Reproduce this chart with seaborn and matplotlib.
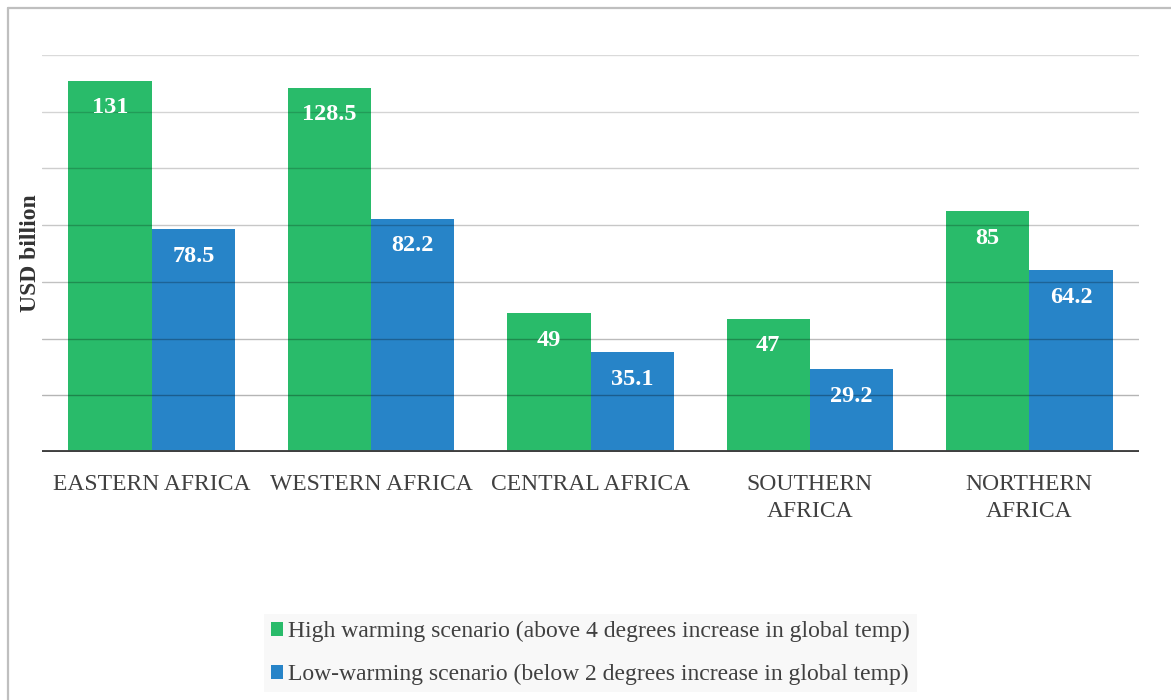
import matplotlib
matplotlib.use("Agg")
import matplotlib.pyplot as plt
from matplotlib.lines import Line2D
from matplotlib.patches import Patch
from matplotlib.ticker import MultipleLocator
import seaborn as sns
import pandas as pd

# Estimated adaptation cost by African region (USD billion)
regions = ["EASTERN AFRICA", "WESTERN AFRICA", "CENTRAL AFRICA",
           "SOUTHERN\nAFRICA", "NORTHERN\nAFRICA"]
high_warming = [131, 128.5, 49, 47, 85]
low_warming = [78.5, 82.2, 35.1, 29.2, 64.2]
scenarios = ["High warming scenario (above 4 degrees increase in global temp)",
             "Low-warming scenario (below 2 degrees increase in global temp)"]
colors = ["#29bb6a", "#2784c8"]

df = pd.DataFrame({
    "region": regions * 2,
    "value": high_warming + low_warming,
    "scenario": [scenarios[0]] * len(regions) + [scenarios[1]] * len(regions),
})

sns.set_theme(style="white")
plt.rcParams["font.family"] = ["Liberation Serif", "DejaVu Serif"]

W, H = 1171, 700
fig = plt.figure(figsize=(W / 100, H / 100), dpi=100)
ax = fig.add_axes([42 / W, (H - 452) / H, (1139 - 42) / W, (452 - 55) / H])

sns.barplot(data=df, x="region", y="value", hue="scenario", order=regions,
            hue_order=scenarios, palette=colors, saturation=1, width=0.76,
            gap=0, linewidth=0, ax=ax, legend=False)

ax.set_ylim(0, 140)
ax.set_xlim(-0.5, len(regions) - 0.5)
ax.yaxis.set_major_locator(MultipleLocator(20))
ax.set_yticklabels([])
ax.tick_params(axis="both", length=0)
ax.tick_params(axis="x", labelsize=17, labelcolor="#404040", pad=15.5)
for lbl in ax.get_xticklabels():
    lbl.set_linespacing(1.42)
for s in ax.spines.values():
    s.set_visible(False)

# horizontal gridlines drawn over the bars, darker toward the baseline
ax.set_axisbelow(False)
ax.grid(True, axis="y", color="black", linewidth=1.0)
gl = ax.get_ygridlines()
n = len(gl)
for i, line in enumerate(gl):
    frac = i / max(n - 1, 1)
    line.set_alpha(0.34 - 0.22 * frac)
ax.grid(False, axis="x")

ax.axhline(0, color="#404040", linewidth=2.8, zorder=4)

ax.set_xlabel("")
ax.set_ylabel("USD billion", fontsize=17, fontweight="bold", color="#333333",
              labelpad=-2.5)

# value labels inside the top of each bar
for container, vals in zip(ax.containers, [high_warming, low_warming]):
    for bar, v in zip(container, vals):
        ax.annotate(f"{v:g}", (bar.get_x() + bar.get_width() / 2, v),
                    xytext=(0, -19.5), textcoords="offset points",
                    ha="center", va="center", fontsize=17.5, fontweight="bold",
                    color="white", zorder=5)

handles = [Patch(facecolor=c, edgecolor="none") for c in colors]
leg = fig.legend(handles, scenarios, loc="center",
                 bbox_to_anchor=(590.5 / W, 1 - 653 / H), fontsize=17,
                 frameon=True, fancybox=False, handlelength=0.52,
                 handleheight=0.52, handletextpad=0.22, labelspacing=0.92,
                 borderpad=0.3, borderaxespad=0)
leg.get_frame().set_facecolor("#f7f7f7")
leg.get_frame().set_edgecolor("none")
for t in leg.get_texts():
    t.set_color("#404040")

# chart border (left and top edges visible)
bc = "#bfbfbf"
fig.add_artist(Line2D([8 / W, 8 / W], [0, 1 - 8 / H], color=bc, lw=1.6,
                      transform=fig.transFigure))
fig.add_artist(Line2D([8 / W, 1], [1 - 8 / H, 1 - 8 / H], color=bc, lw=1.6,
                      transform=fig.transFigure))

fig.savefig("out.png", dpi=100, facecolor="white")
